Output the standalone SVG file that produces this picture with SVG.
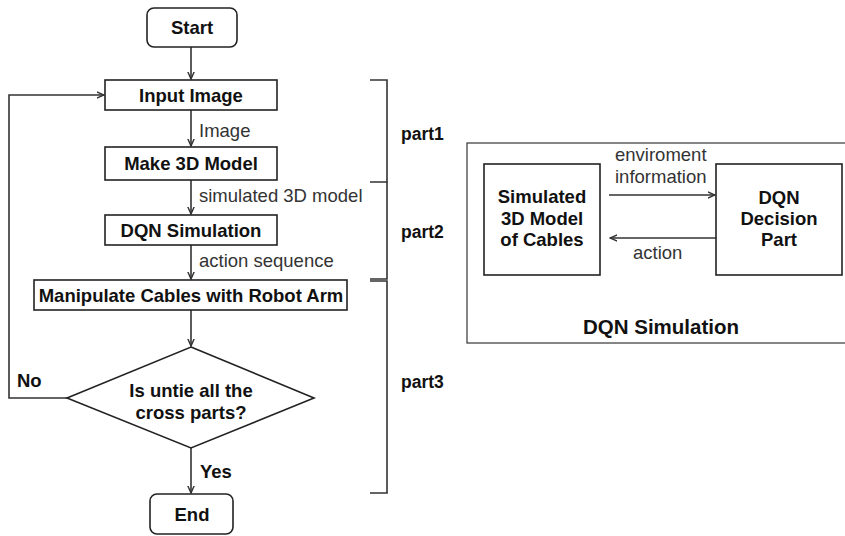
<svg xmlns="http://www.w3.org/2000/svg" width="845" height="536" viewBox="0 0 845 536">
<defs>
<marker id="ah" viewBox="0 0 10 10" refX="9" refY="5" markerWidth="8" markerHeight="8" markerUnits="userSpaceOnUse" orient="auto">
<path d="M0,1 L9,5 L0,9" fill="none" stroke="#333" stroke-width="1.8"/>
</marker>
<style>
.box{fill:#fff;stroke:#222;stroke-width:1.6}
.b{font-family:"Liberation Sans",Arial,sans-serif;font-weight:bold;font-size:18.5px;fill:#111;text-anchor:middle}
.n{font-family:"Liberation Sans",Arial,sans-serif;font-size:18.5px;fill:#333}
.ln{fill:none;stroke:#333;stroke-width:1.6}
.br{fill:none;stroke:#333;stroke-width:1.6}
</style>
</defs>
<rect width="845" height="536" fill="#fff"/>

<g id="connectors">
<line class="ln" x1="191" y1="47" x2="191" y2="79" marker-end="url(#ah)"/>
<line class="ln" x1="191" y1="110" x2="191" y2="146" marker-end="url(#ah)"/>
<line class="ln" x1="191" y1="180" x2="191" y2="214" marker-end="url(#ah)"/>
<line class="ln" x1="191" y1="245" x2="191" y2="279" marker-end="url(#ah)"/>
<line class="ln" x1="191" y1="310" x2="191" y2="346" marker-end="url(#ah)"/>
<line class="ln" x1="191" y1="448" x2="191" y2="493" marker-end="url(#ah)"/>
<polyline class="ln" points="67,398 9,398 9,95 104,95" marker-end="url(#ah)"/>
<line class="ln" x1="609" y1="195" x2="715" y2="195" marker-end="url(#ah)"/>
<line class="ln" x1="716" y1="238" x2="610" y2="238" marker-end="url(#ah)"/>
<text class="n" x="199" y="137">Image</text>
<text class="n" x="199" y="202">simulated 3D model</text>
<text class="n" x="199" y="267">action sequence</text>
<text class="b" x="17" y="387" style="text-anchor:start">No</text>
<text class="b" x="200" y="478" style="text-anchor:start">Yes</text>
<text class="n" x="615" y="161">enviroment</text>
<text class="n" x="615" y="183">information</text>
<text class="n" x="633" y="259">action</text>
</g>

<g id="start">
<rect class="box" x="147" y="8" width="90" height="39" rx="7"/>
<text class="b" x="192" y="34">Start</text>
</g>
<g id="input-image">
<rect class="box" x="105" y="80" width="172" height="30"/>
<text class="b" x="191" y="102">Input Image</text>
</g>
<g id="make-3d-model">
<rect class="box" x="105" y="147" width="172" height="33"/>
<text class="b" x="191" y="170">Make 3D Model</text>
</g>
<g id="dqn-simulation">
<rect class="box" x="105" y="215" width="172" height="30"/>
<text class="b" x="191" y="237">DQN Simulation</text>
</g>
<g id="manipulate">
<rect class="box" x="34" y="280" width="313" height="30"/>
<text class="b" x="191" y="302">Manipulate Cables with Robot Arm</text>
</g>
<g id="decision">
<polygon class="box" points="191,347 314,398 191,448 67,398"/>
<text class="b" x="191" y="397">Is untie all the</text>
<text class="b" x="191" y="419">cross parts?</text>
</g>
<g id="end">
<rect class="box" x="150" y="494" width="83" height="40" rx="7"/>
<text class="b" x="192" y="521">End</text>
</g>

<g id="brackets">
<polyline class="br" points="370,80 387,80 387,182 370,182"/>
<polyline class="br" points="387,182 387,279 370,279"/>
<polyline class="br" points="370,281 387,281 387,493 370,493"/>
<text class="b" x="401" y="140" style="text-anchor:start;font-size:17.5px">part1</text>
<text class="b" x="401" y="238" style="text-anchor:start;font-size:17.5px">part2</text>
<text class="b" x="401" y="388" style="text-anchor:start;font-size:17.5px">part3</text>
</g>

<g id="dqn-panel">
<rect x="467" y="143" width="385" height="200" fill="none" stroke="#444" stroke-width="1.3"/>
<text class="b" x="661" y="334" style="font-size:20.5px">DQN Simulation</text>
</g>
<g id="simulated-model">
<rect class="box" x="484" y="164" width="116" height="111"/>
<text class="b" x="542" y="203">Simulated</text>
<text class="b" x="542" y="225">3D Model</text>
<text class="b" x="542" y="246">of Cables</text>
</g>
<g id="dqn-decision">
<rect class="box" x="716" y="164" width="126" height="111"/>
<text class="b" x="779" y="204">DQN</text>
<text class="b" x="779" y="225">Decision</text>
<text class="b" x="779" y="246">Part</text>
</g>
</svg>
